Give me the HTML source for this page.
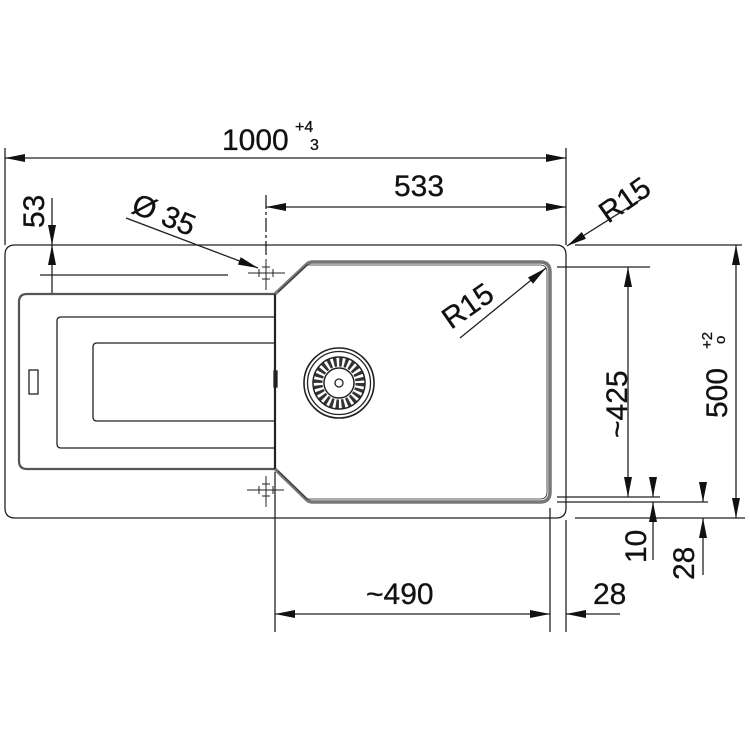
<!DOCTYPE html>
<html><head><style>
html,body{margin:0;padding:0;background:#fff;}
svg{display:block;}
text{font-family:"Liberation Sans",sans-serif;fill:#111;stroke:#111;stroke-width:0.3;}
</style></head><body>
<svg width="750" height="750" viewBox="0 0 750 750" xmlns="http://www.w3.org/2000/svg">
<defs>
<marker id="a" viewBox="0 0 20 8" refX="20" refY="4" markerWidth="20" markerHeight="8" markerUnits="userSpaceOnUse" orient="auto-start-reverse">
<path d="M0,0 L20,4 L0,8 z" fill="#111"/></marker>
</defs>
<g fill="none" stroke="#222" stroke-width="1.3">
<path d="M5,255 Q5,245 15,245 L556,245 Q566,245 566,255 L566,508 Q566,518 556,518 L15,518 Q5,518 5,508 Z"/>
<line x1="5" y1="148" x2="5" y2="245"/>
<line x1="566" y1="148" x2="566" y2="245"/>
<line x1="575" y1="245" x2="742" y2="245"/>
<line x1="575" y1="518" x2="745" y2="518"/>
<line x1="557" y1="267" x2="650" y2="267"/>
<line x1="557" y1="497" x2="660" y2="497"/>
<line x1="557" y1="502" x2="708" y2="502"/>
<line x1="275" y1="472" x2="275" y2="632" />
<line x1="550" y1="508" x2="550" y2="632"/>
<line x1="566" y1="520" x2="566" y2="632"/>
<line x1="266" y1="195" x2="266" y2="258" stroke-dasharray="14,3,3,3"/>
<line x1="40" y1="275" x2="228" y2="275"/>
<line x1="5" y1="158" x2="566" y2="158" marker-start="url(#a)" marker-end="url(#a)"/>
<line x1="266" y1="207" x2="566" y2="207" marker-start="url(#a)" marker-end="url(#a)"/>
<line x1="52" y1="198" x2="52" y2="245" marker-end="url(#a)"/>
<line x1="52" y1="245" x2="52" y2="295" marker-start="url(#a)"/>
<line x1="126" y1="218" x2="258" y2="268" marker-end="url(#a)"/>
<line x1="648" y1="195" x2="567" y2="246" marker-end="url(#a)"/>
<line x1="460" y1="338" x2="546" y2="268" marker-end="url(#a)"/>
<line x1="628" y1="267" x2="628" y2="497" marker-start="url(#a)" marker-end="url(#a)"/>
<line x1="736" y1="245" x2="736" y2="518" marker-start="url(#a)" marker-end="url(#a)"/>
<line x1="653" y1="477" x2="653" y2="497" marker-end="url(#a)"/>
<line x1="653" y1="522" x2="653" y2="502" marker-end="url(#a)"/>
<line x1="653" y1="522" x2="653" y2="560"/>
<line x1="703" y1="482" x2="703" y2="502" marker-end="url(#a)"/>
<line x1="703" y1="538" x2="703" y2="518" marker-end="url(#a)"/>
<line x1="703" y1="538" x2="703" y2="575"/>
<line x1="275" y1="614" x2="550" y2="614" marker-start="url(#a)" marker-end="url(#a)"/>
<line x1="586" y1="614" x2="566" y2="614" marker-end="url(#a)"/>
<line x1="586" y1="614" x2="620" y2="614"/>
<path d="M275,294 L27,294 Q19,294 19,302 L19,461 Q19,469 27,469 L275,469" stroke-width="2.2" stroke="#555"/>
<path d="M275,317 L61,317 Q57,317 57,321 L57,444 Q57,448 61,448 L275,448"/>
<path d="M275,343 L97,343 Q93,343 93,347 L93,417 Q93,421 97,421 L275,421"/>
<rect x="29" y="370" width="9" height="24"/>
<line x1="275" y1="294" x2="275" y2="469" stroke-width="2.2"/>
<rect x="274" y="371" width="3" height="16" fill="#222"/>
<path d="M275,294 L307,264 Q309,262 313,262 L540,262 Q550,262 550,272 L550,492 Q550,502 540,502 L313,502 Q309,502 307,500 L275,469" stroke-width="3.5" stroke="#777"/>
<path d="M278,292 L307,265 L540,265 Q547,265 547,272 L547,492 Q547,499 540,499 L307,499 L278,471" stroke-width="0.8"/>
<g stroke-width="1">
<line x1="266" y1="259" x2="266" y2="290"/><line x1="248" y1="273" x2="285" y2="273"/>
<line x1="262" y1="267" x2="270" y2="267"/><line x1="262" y1="279" x2="270" y2="279"/>
<line x1="259" y1="269" x2="259" y2="277"/><line x1="273" y1="269" x2="273" y2="277"/>
<line x1="266" y1="476" x2="266" y2="507"/><line x1="247" y1="490" x2="284" y2="490"/>
<line x1="262" y1="484" x2="270" y2="484"/><line x1="262" y1="496" x2="270" y2="496"/>
<line x1="259" y1="486" x2="259" y2="494"/><line x1="273" y1="486" x2="273" y2="494"/>
</g>
<circle cx="339" cy="383" r="35" stroke-width="1.6"/>
<circle cx="339" cy="383" r="31.5"/>
<circle cx="339" cy="383" r="21" stroke-width="9" stroke="#333" stroke-dasharray="3,2.5"/>
<circle cx="339" cy="383" r="26" stroke-width="1.5"/>
<circle cx="339" cy="383" r="15" stroke-width="1.5"/>
<circle cx="339" cy="383" r="4"/>
</g>
<text x="222" y="150" font-size="30">1000</text>
<text x="295" y="132" font-size="16">+4</text>
<text x="310" y="150" font-size="16">3</text>
<text x="394" y="196" font-size="30">533</text>
<text x="0" y="0" font-size="30" transform="translate(608,224) rotate(-35)">R15</text>
<text x="0" y="0" font-size="30" transform="translate(451,330) rotate(-35)">R15</text>
<text x="0" y="0" font-size="30" transform="translate(44,228) rotate(-90)">53</text>
<text x="0" y="0" font-size="30" transform="translate(130,212) rotate(22)">Ø 35</text>
<text x="0" y="0" font-size="30" transform="translate(627,438) rotate(-90)">~425</text>
<text x="0" y="0" font-size="30" transform="translate(727,418) rotate(-90)">500</text>
<text x="0" y="0" font-size="15" transform="translate(712,349) rotate(-90)">+2</text>
<text x="0" y="0" font-size="15" transform="translate(725,344) rotate(-90)">o</text>
<text x="0" y="0" font-size="30" transform="translate(646,563) rotate(-90)">10</text>
<text x="0" y="0" font-size="30" transform="translate(694,580) rotate(-90)">28</text>
<text x="366" y="604" font-size="30">~490</text>
<text x="593" y="604" font-size="30">28</text>
</svg>
</body></html>
